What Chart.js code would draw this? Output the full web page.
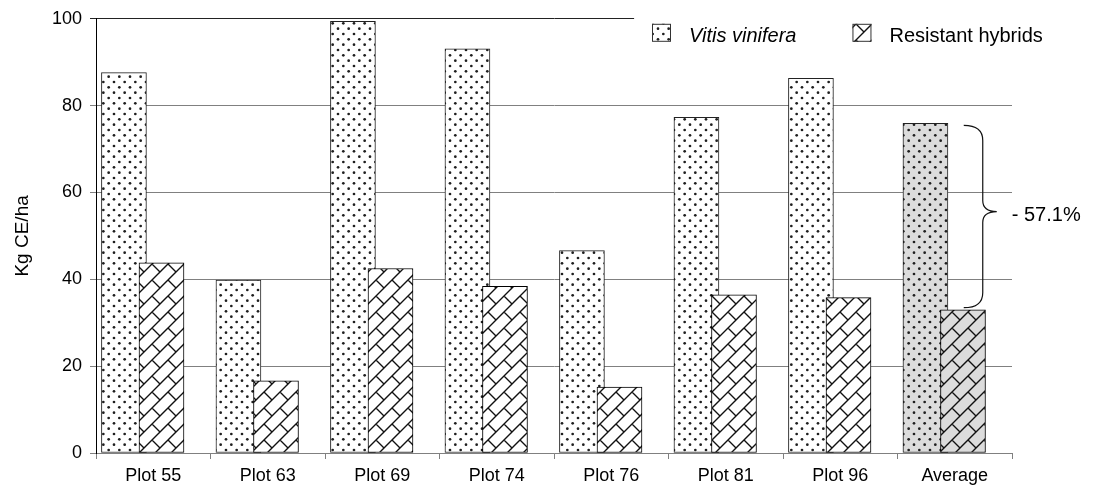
<!DOCTYPE html>
<html>
<head>
<meta charset="utf-8">
<script src="https://cdn.jsdelivr.net/npm/chart.js@4/dist/chart.umd.min.js"></script>
<style>
  html, body { margin: 0; padding: 0; background: #fff; }
  #wrap { width: 1093px; height: 486px; position: relative; }
</style>
</head>
<body>
<div id="wrap"><canvas id="chart"></canvas></div>
<script>
// ── Data ────────────────────────────────────────────────────────────────────
const categories     = ['Plot 55', 'Plot 63', 'Plot 69', 'Plot 74', 'Plot 76', 'Plot 81', 'Plot 96', 'Average'];
const viniferaValues = [87.6, 39.8, 99.4, 93.1, 46.6, 77.3, 86.3, 75.9];
const hybridValues   = [43.8, 16.6, 42.5, 38.4, 15.2, 36.4, 35.8, 33.0];
const yTicks         = [0, 20, 40, 60, 80, 100];
const seriesNames    = ['Vitis vinifera', 'Resistant hybrids'];
const yTitle         = 'Kg CE/ha';
const reductionLabel = '- 57.1%';

// ── Styles ──────────────────────────────────────────────────────────────────
const FONT      = '"Liberation Sans", Arial, sans-serif';
const GRID      = '#808080';
const AVG_FILL  = '#dcdcdc';
const V_OFFSET  = -0.256;   // bar centre offset inside the category (category units)
const H_OFFSET  = 0.072;
const AVG_INDEX = categories.length - 1;

// Excel-like fill patterns
function dotPattern(bg) {
  // 32px tile = 3 x 3 repeats of a 10.67px cell, two dots per cell
  const c = document.createElement('canvas');
  c.width = c.height = 32;
  const g = c.getContext('2d');
  g.fillStyle = bg;
  g.fillRect(0, 0, 32, 32);
  g.fillStyle = '#1e1e1e';
  const s = 32 / 3;
  for (let i = 0; i < 3; i++) {
    for (let j = 0; j < 3; j++) {
      [[2, 2], [2 + s / 2, 2 + s / 2]].forEach(([dx, dy]) => {
        g.beginPath();
        g.arc(i * s + dx, j * s + dy, 1.35, 0, Math.PI * 2);
        g.fill();
      });
    }
  }
  return g.createPattern(c, 'repeat');
}

function brickPattern(bg) {
  // diagonal brick: "/" lines every 16px with short "\" joints
  const c = document.createElement('canvas');
  c.width = c.height = 32;
  const g = c.getContext('2d');
  g.fillStyle = bg;
  g.fillRect(0, 0, 32, 32);
  g.strokeStyle = '#111';
  g.lineWidth = 1.4;
  const s = 16;
  g.beginPath();
  for (let k = -1; k <= 5; k++) {
    g.moveTo(k * s + 4, -4);
    g.lineTo(k * s - 36, 36);
  }
  for (let i = -1; i <= 2; i++) {
    for (let j = -1; j <= 2; j++) {
      g.moveTo(i * s + s / 2, j * s + s / 2);
      g.lineTo(i * s + s, j * s + s);
    }
  }
  g.stroke();
  return g.createPattern(c, 'repeat');
}

const dotsWhite  = dotPattern('#ffffff');
const dotsGray   = dotPattern(AVG_FILL);
const brickWhite = brickPattern('#ffffff');
const brickGray  = brickPattern(AVG_FILL);

// ── Plugins ─────────────────────────────────────────────────────────────────
// Legend in the upper right, first label italic (species name)
const legendBox = {
  id: 'legendBox',
  afterDraw(chart) {
    const { ctx, chartArea } = chart;
    const items = [
      { text: seriesNames[0], fill: dotsWhite,  italic: true },
      { text: seriesNames[1], fill: brickWhite, italic: false },
    ];
    let x = chartArea.right - 360;
    const top = chartArea.top + 5;
    ctx.save();
    items.forEach(it => {
      ctx.fillStyle = it.fill;
      ctx.fillRect(x, top, 19, 18);
      ctx.strokeStyle = '#333';
      ctx.lineWidth = 1;
      ctx.strokeRect(x + 0.5, top + 0.5, 18, 17);
      ctx.font = (it.italic ? 'italic ' : '') + '20px ' + FONT;
      ctx.fillStyle = '#000';
      ctx.textBaseline = 'alphabetic';
      ctx.textAlign = 'left';
      ctx.fillText(it.text, x + 37, top + 18);
      x += 37 + ctx.measureText(it.text).width + 56;
    });
    ctx.restore();
  },
};

// Curly brace between the two "Average" bars with the reduction label
const braceNote = {
  id: 'braceNote',
  afterDatasetsDraw(chart) {
    const { ctx, scales } = chart;
    const cx = scales.x.getPixelForTick(AVG_INDEX);
    const ya = scales.y.getPixelForValue(viniferaValues[AVG_INDEX]) + 2;
    const yb = scales.y.getPixelForValue(hybridValues[AVG_INDEX]) - 2;
    const ym = (ya + yb) / 2 - 5;
    const x0 = cx + 9, x1 = cx + 28, x2 = cx + 42;
    const r = 15, rt = 11;

    ctx.save();
    ctx.strokeStyle = '#111';
    ctx.lineWidth = 1.2;
    ctx.beginPath();
    ctx.moveTo(x0, ya);
    ctx.quadraticCurveTo(x1, ya, x1, ya + r);
    ctx.lineTo(x1, ym - rt);
    ctx.quadraticCurveTo(x1, ym, x2, ym);
    ctx.quadraticCurveTo(x1, ym, x1, ym + rt);
    ctx.lineTo(x1, yb - r);
    ctx.quadraticCurveTo(x1, yb, x0, yb);
    ctx.stroke();

    ctx.font = '20px ' + FONT;
    ctx.fillStyle = '#000';
    ctx.textAlign = 'left';
    ctx.textBaseline = 'middle';
    ctx.fillText(reductionLabel, cx + 57, ym + 4);
    ctx.restore();
  },
};

// ── Chart ───────────────────────────────────────────────────────────────────
function topLine(chart) {
  // the 100 line is darker and stops where the legend box begins
  const g = chart.ctx.createLinearGradient(0, 0, chart.width, 0);
  const stop = (chart.chartArea.right - 378) / chart.width;
  g.addColorStop(0, '#222');
  g.addColorStop(stop, '#222');
  g.addColorStop(Math.min(stop + 0.0005, 1), 'rgba(0,0,0,0)');
  g.addColorStop(1, 'rgba(0,0,0,0)');
  return g;
}

new Chart(document.getElementById('chart'), {
  type: 'bar',
  data: {
    labels: categories,
    datasets: [
      {
        label:           seriesNames[0],
        data:            viniferaValues.map((v, i) => ({ x: i + V_OFFSET, y: v })),
        xAxisID:         'xb',
        backgroundColor: c => c.dataIndex === AVG_INDEX ? dotsGray : dotsWhite,
        borderColor:     '#222',
        borderWidth:     1,
        order:           1,
      },
      {
        label:           seriesNames[1],
        data:            hybridValues.map((v, i) => ({ x: i + H_OFFSET, y: v })),
        xAxisID:         'xb',
        backgroundColor: c => c.dataIndex === AVG_INDEX ? brickGray : brickWhite,
        borderColor:     '#000',
        borderWidth:     1,
        order:           0,
      },
    ],
  },
  options: {
    responsive:          true,
    maintainAspectRatio: false,
    animation:           false,
    layout: { padding: { left: 0, right: 81, top: 17, bottom: 0 } },
    datasets: {
      bar: { grouped: false, barThickness: 45, borderSkipped: false },
    },
    scales: {
      x: {
        type:   'category',
        offset: true,
        grid:   { offset: true, drawOnChartArea: false, drawTicks: true, tickLength: 6, color: GRID },
        border: { color: GRID },
        ticks:  { color: '#000', font: { family: FONT, size: 18 }, padding: 6, maxRotation: 0, autoSkip: false },
        afterFit(scale) { scale.height = 33; },
      },
      xb: {
        type:    'linear',
        display: false,
        offset:  false,
        min:     -0.5,
        max:     categories.length - 0.5,
      },
      y: {
        min: 0,
        max: 100,
        afterBuildTicks(scale) { scale.ticks = yTicks.map(v => ({ value: v })); },
        grid: {
          tickLength: 6,
          color: c => (c.tick && c.tick.value === 100) ? topLine(c.chart) : GRID,
        },
        border: { color: '#000' },
        ticks:  { color: '#000', font: { family: FONT, size: 18 }, padding: 8 },
        title: {
          display: true,
          text:    yTitle,
          color:   '#000',
          font:    { family: FONT, size: 19 },
          padding: { top: 11, bottom: 0 },
        },
        afterFit(scale) { scale.width = 96; },
      },
    },
    plugins: {
      legend:  { display: false },
      tooltip: { enabled: false },
    },
  },
  plugins: [legendBox, braceNote],
});
</script>
</body>
</html>
